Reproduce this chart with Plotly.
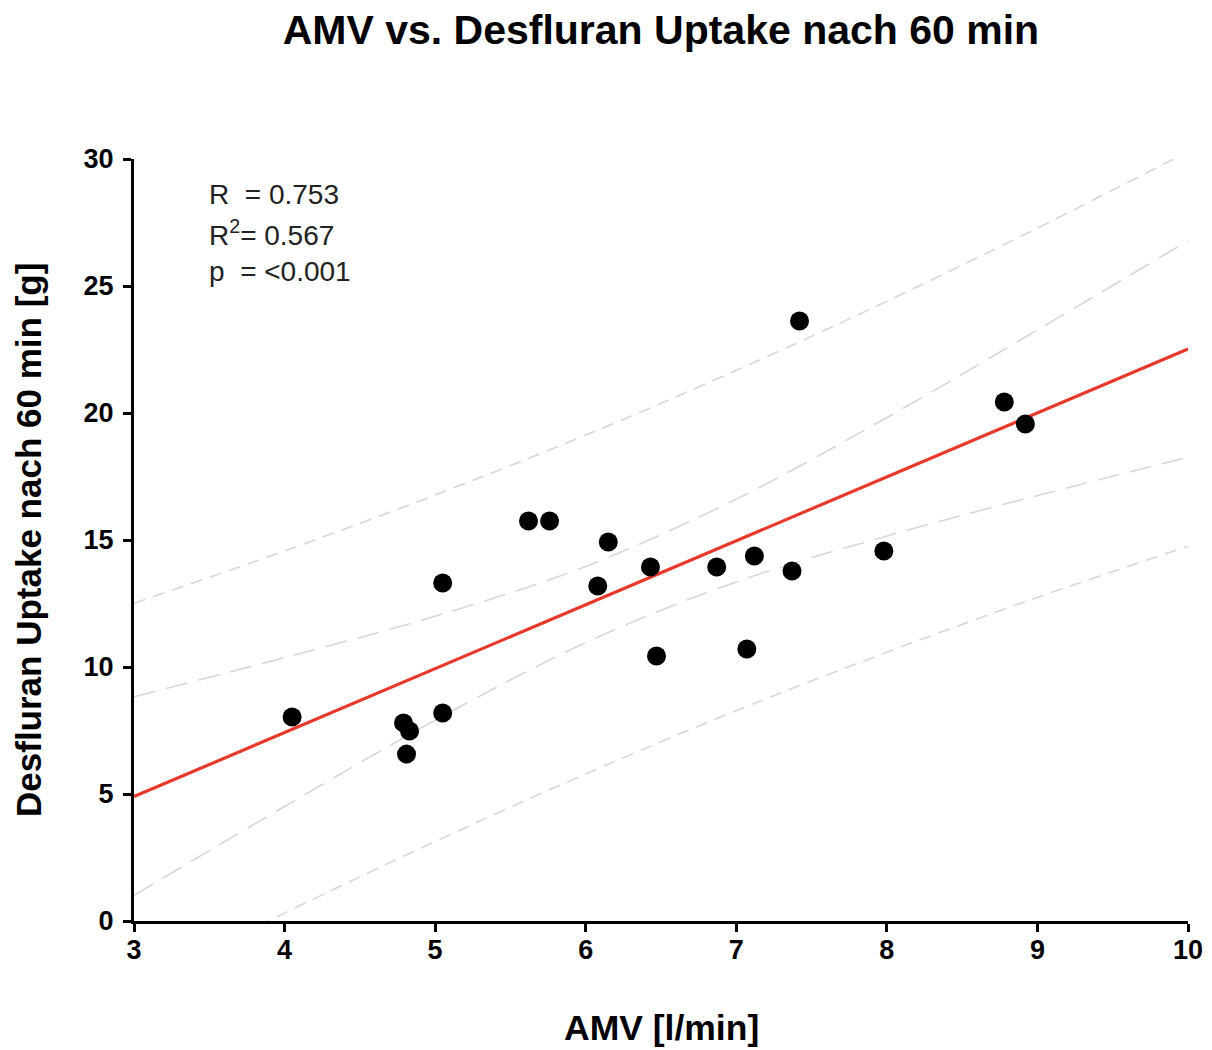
import plotly.graph_objects as go

# Minute ventilation (AMV, l/min) and desflurane uptake after 60 min (g)
amv = [4.05, 4.79, 4.83, 4.81, 5.05, 5.05, 5.62, 5.76, 6.15, 6.08,
       6.43, 6.47, 6.87, 7.12, 7.07, 7.37, 7.42, 7.98, 8.78, 8.92]
uptake = [8.03, 7.80, 7.48, 6.57, 13.31, 8.19, 15.75, 15.75, 14.92, 13.19,
          13.94, 10.43, 13.94, 14.37, 10.71, 13.78, 23.62, 14.57, 20.43, 19.57]

# Linear regression line
fit_x = [3, 10]
fit_y = [4.90, 22.52]

# 95 % confidence and prediction bands at integer AMV values
band_x = [3, 4, 5, 6, 7, 8, 9, 10]
conf_upper = [8.83, 10.37, 12.00, 13.96, 16.61, 19.82, 23.27, 26.78]
conf_lower = [1.01, 4.51, 7.90, 10.96, 13.35, 15.16, 16.75, 18.26]
pred_upper = [12.51, 14.57, 16.77, 19.13, 21.68, 24.40, 27.28, 30.29]
pred_lower = [-2.67, 0.31, 3.13, 5.79, 8.28, 10.58, 12.74, 14.75]

stats_lines = ["R  = 0.753", "R<sup>2</sup>= 0.567", "p  = <0.001"]

x_ticks = [3, 4, 5, 6, 7, 8, 9, 10]
y_ticks = [0, 5, 10, 15, 20, 25, 30]

FONT = "Liberation Sans, Arial, sans-serif"
BAND_COLOR = "rgb(215,215,215)"

fig = go.Figure()

for ys, dash in [(pred_upper, "12px,8px"), (pred_lower, "12px,8px"),
                 (conf_upper, "22px,11px"), (conf_lower, "22px,11px")]:
    fig.add_trace(go.Scatter(
        x=band_x, y=ys, mode="lines",
        line=dict(color=BAND_COLOR, width=1.6, dash=dash, shape="spline"),
        hoverinfo="skip", showlegend=False,
    ))

fig.add_trace(go.Scatter(
    x=fit_x, y=fit_y, mode="lines",
    line=dict(color="#e8382b", width=3.2),
    showlegend=False,
))

fig.add_trace(go.Scatter(
    x=amv, y=uptake, mode="markers",
    marker=dict(color="black", size=19, line=dict(width=0)),
    showlegend=False,
))

for i, txt in enumerate(stats_lines):
    fig.add_annotation(
        x=0.069, y=0.953 - i * 0.0505, xref="paper", yref="paper",
        text=txt, showarrow=False, xanchor="left", yanchor="middle",
        font=dict(family=FONT, size=28, color="#222222"),
    )

fig.add_annotation(
    x=0.5, y=-0.1404, xref="paper", yref="paper",
    text="<b>AMV [l/min]</b>", showarrow=False, xanchor="center", yanchor="middle",
    font=dict(family=FONT, size=35.5, color="black"),
)
fig.add_annotation(
    x=-0.1006, y=0.5, xref="paper", yref="paper",
    text="<b>Desfluran Uptake nach 60 min [g]</b>", showarrow=False,
    textangle=-90, xanchor="center", yanchor="middle",
    font=dict(family=FONT, size=35, color="black"),
)

axis_common = dict(
    showline=True, linecolor="black", linewidth=3,
    ticks="outside", ticklen=8, tickwidth=2.5, tickcolor="black",
    showgrid=False, zeroline=False, mirror=False, automargin=False,
    tickfont=dict(family=FONT, size=27, color="black", weight="bold"),
)

fig.update_layout(
    width=1212, height=1050,
    margin=dict(l=134, r=24, t=159, b=129),
    paper_bgcolor="white", plot_bgcolor="white",
    title=dict(
        text="<b>AMV vs. Desfluran Uptake nach 60 min</b>",
        x=0.5453, xanchor="center", y=1 - 30 / 1050, yanchor="middle",
        yref="container", xref="container",
        font=dict(family=FONT, size=41, color="black"),
    ),
    xaxis=dict(range=[3, 10], tickvals=x_ticks, ticklabelstandoff=-5, **axis_common),
    yaxis=dict(range=[0, 30], tickvals=y_ticks, ticklabelstandoff=4, **axis_common),
    showlegend=False,
)

fig.write_html("out.html")
